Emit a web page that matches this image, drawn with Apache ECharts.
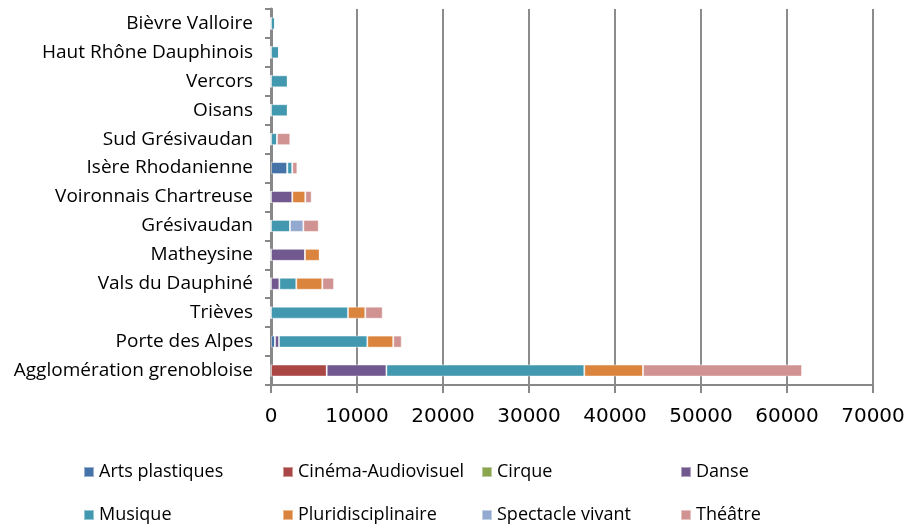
<!DOCTYPE html>
<html lang="fr">
<head>
<meta charset="UTF-8">
<title>Répartition par territoire</title>
<script src="https://cdn.jsdelivr.net/npm/echarts@6/dist/echarts.min.js"></script>
<style>
    html, body { margin: 0; padding: 0; background: #fff; }
    #chart { width: 909px; height: 528px; }
</style>
</head>
<body>
<div id="chart"></div>
<script>
    // territoires, de haut en bas
    const categories = ['Bièvre Valloire', 'Haut Rhône Dauphinois', 'Vercors', 'Oisans', 'Sud Grésivaudan',
        'Isère Rhodanienne', 'Voironnais Chartreuse', 'Grésivaudan', 'Matheysine', 'Vals du Dauphiné',
        'Trièves', 'Porte des Alpes', 'Agglomération grenobloise'];

    const artsPlastiques   = [0, 0, 0, 0, 0, 1900, 0, 0, 0, 0, 0, 470, 0];
    const cinema           = [0, 0, 0, 0, 0, 0, 0, 0, 0, 0, 0, 0, 6480];
    const cirque           = [0, 0, 0, 0, 0, 0, 0, 0, 0, 0, 0, 0, 0];
    const danse            = [0, 0, 0, 0, 0, 0, 2480, 0, 3950, 970, 0, 460, 6940];
    const musique          = [470, 930, 1940, 1940, 700, 580, 0, 2210, 0, 1970, 8950, 10270, 23010];
    const pluridisciplinaire = [0, 0, 0, 0, 0, 0, 1510, 0, 1710, 3030, 2020, 3020, 6830];
    const spectacleVivant  = [0, 0, 0, 0, 0, 0, 0, 1550, 0, 0, 0, 0, 0];
    const theatre          = [0, 0, 0, 0, 1540, 580, 740, 1790, 0, 1360, 2020, 980, 18490];

    const seriesNames = ['Arts plastiques', 'Cinéma-Audiovisuel', 'Cirque', 'Danse',
        'Musique', 'Pluridisciplinaire', 'Spectacle vivant', 'Théâtre'];
    const seriesData = [artsPlastiques, cinema, cirque, danse, musique, pluridisciplinaire, spectacleVivant, theatre];
    const colors = ['#4572A7', '#AA4643', '#89A54E', '#71588F', '#4198AF', '#DB843D', '#93A9CF', '#D19392'];

    const xTicks = { min: 0, max: 70000, interval: 10000 };

    const labelFont = '"Open Sans", "Noto Sans", sans-serif';

    // une légende par entrée, en grille 4 x 2
    const legends = seriesNames.map((name, i) => ({
        data: [name],
        left: 83 + (i % 4) * 199,
        top: i < 4 ? 463 : 506,
        padding: 0,
        itemWidth: 10,
        itemHeight: 10,
        itemGap: 0,
        icon: 'rect',
        selectedMode: false,
        textStyle: { fontFamily: labelFont, fontSize: 18, color: '#000' }
    }));

    const chart = echarts.init(document.getElementById('chart'));
    chart.setOption({
        animation: false,
        color: colors,
        legend: legends,
        grid: { left: 271, right: 36, top: 9, height: 376, containLabel: false },
        xAxis: {
            type: 'value',
            min: xTicks.min,
            max: xTicks.max,
            interval: xTicks.interval,
            axisLine: { show: true, lineStyle: { color: '#888', width: 2 } },
            axisTick: { show: true, length: 8, lineStyle: { color: '#888', width: 2 } },
            splitLine: { show: true, lineStyle: { color: '#8c8c8c', width: 2 } },
            axisLabel: {
                margin: 22, fontFamily: '"DejaVu Sans", sans-serif', fontSize: 20, color: '#000',
                formatter: v => String(v)
            }
        },
        yAxis: {
            type: 'category',
            inverse: true,
            data: categories,
            axisLine: { show: true, lineStyle: { color: '#888', width: 3 } },
            axisTick: { show: true, length: 6, lineStyle: { color: '#888', width: 2 } },
            axisLabel: { margin: 18, fontFamily: labelFont, fontSize: 19, color: '#000' }
        },
        series: seriesNames.map((name, i) => ({
            name: name,
            type: 'bar',
            stack: 'total',
            barWidth: 12,
            data: seriesData[i],
            itemStyle: { borderColor: 'rgba(255,255,255,0.45)', borderWidth: 1 }
        }))
    });
</script>
</body>
</html>
